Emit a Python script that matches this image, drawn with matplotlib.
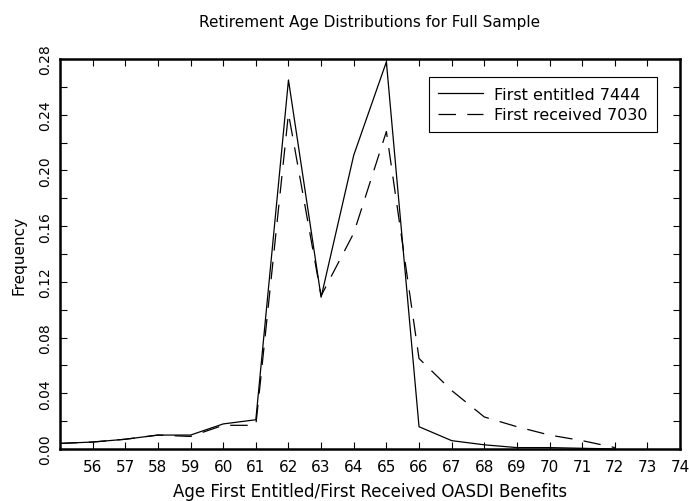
import matplotlib
matplotlib.use("Agg")
import matplotlib.pyplot as plt
from matplotlib.ticker import MultipleLocator, FormatStrFormatter

ages = [55, 56, 57, 58, 59, 60, 61, 62, 63, 64, 65, 66, 67, 68, 69, 70, 71, 72]
first_entitled = [0.004, 0.005, 0.007, 0.010, 0.010, 0.018, 0.021, 0.265, 0.109, 0.211, 0.278,
                  0.016, 0.006, 0.003, 0.001, 0.001, 0.0005, 0.0]
first_received = [0.004, 0.005, 0.007, 0.010, 0.009, 0.017, 0.017, 0.241, 0.110, 0.155, 0.228,
                  0.065, 0.042, 0.023, 0.016, 0.010, 0.006, 0.001]
label_entitled = "First entitled 7444"
label_received = "First received 7030"
title = "Retirement Age Distributions for Full Sample"
xlabel = "Age First Entitled/First Received OASDI Benefits"
ylabel = "Frequency"
xticks = list(range(56, 75))

plt.rcParams['font.family'] = ['DejaVu Sans']
fig = plt.figure(figsize=(6.89, 5.02), dpi=100)
ax = fig.add_axes([0.0871, 0.1036, 0.9, 0.7767])

ax.plot(ages, first_entitled, color='black', lw=0.9, label=label_entitled)
ax.plot(ages, first_received, color='black', lw=0.9, dashes=(14, 9), label=label_received)

ax.set_xlim(55, 74)
ax.set_ylim(0, 0.28)
ax.set_xticks(xticks)
ax.yaxis.set_major_locator(MultipleLocator(0.04))
ax.yaxis.set_minor_locator(MultipleLocator(0.02))
ax.yaxis.set_major_formatter(FormatStrFormatter('%.2f'))
ax.tick_params(axis='both', which='both', direction='in', top=True, right=True, width=0.8)
ax.tick_params(axis='x', which='major', length=5, labelsize=11, pad=7)
ax.tick_params(axis='y', which='major', length=5, labelsize=10, pad=6)
ax.tick_params(axis='y', which='minor', length=5)
for lab in ax.get_yticklabels():
    lab.set_rotation(90)
    lab.set_va('center')
for s in ax.spines.values():
    s.set_linewidth(1.8)

ax.set_title(title, fontsize=11, pad=24)
ax.set_xlabel(xlabel, fontsize=12, labelpad=6)
ax.set_ylabel(ylabel, fontsize=11, labelpad=8)

leg = ax.legend(loc='upper right', bbox_to_anchor=(0.963, 0.954), fancybox=False,
                edgecolor='black', framealpha=1, fontsize=11.5, handlelength=2.8,
                handletextpad=0.7, borderpad=0.6, labelspacing=0.35, borderaxespad=0)
leg.get_frame().set_linewidth(0.8)

fig.savefig("out.png", dpi=100)
